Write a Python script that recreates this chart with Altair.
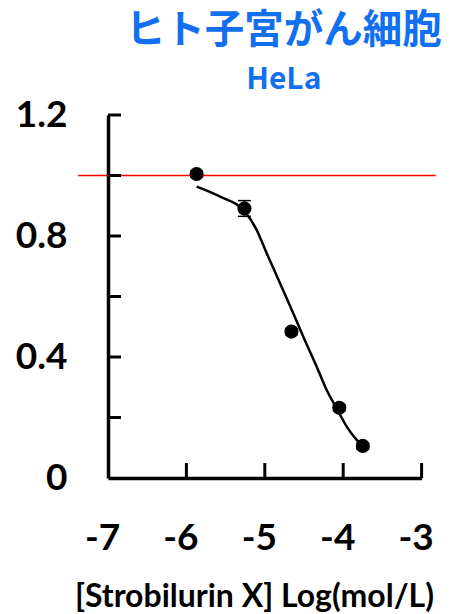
import altair as alt
import pandas as pd

# measured points
log_conc = [-5.87, -5.26, -4.66, -4.05, -3.75]
viability = [1.005, 0.891, 0.484, 0.232, 0.106]
err = [0.01, 0.026, 0.01, 0.01, 0.01]

# fitted curve
curve_x = [-5.869, -5.571, -5.253, -5.104, -4.976, -4.806, -4.636, -4.509, -4.338, -4.211,
           -4.083, -3.955, -3.828, -3.751]
curve_y = [0.963, 0.930, 0.880, 0.820, 0.743, 0.644, 0.544, 0.467, 0.368, 0.291,
           0.230, 0.170, 0.126, 0.106]

x_ticks = [-6, -5, -4, -3]
y_ticks = [0.2, 0.4, 0.6, 0.8, 1.0, 1.2]
y_labels = [0, 0.4, 0.8, 1.2]
x_labels = [-7, -6, -5, -4, -3]
ref_y = [1.0]
ref_x_start = [-7.38]
ref_x_end = [-2.82]

W, H = 313.6, 363
FONT = "Lato"
WEIGHT = "bold"
BLUE = "#1270F0"

pts = pd.DataFrame({"x": log_conc, "y": viability,
                    "lo": [v - e for v, e in zip(viability, err)],
                    "hi": [v + e for v, e in zip(viability, err)]})
crv = pd.DataFrame({"x": curve_x, "y": curve_y})
ref = pd.DataFrame({"x": ref_x_start, "x2": ref_x_end, "y": ref_y})
xt = pd.DataFrame({"x": x_ticks})
yt = pd.DataFrame({"y": y_ticks})

xscale = alt.Scale(domain=[-7, -3], nice=False, zero=False)
yscale = alt.Scale(domain=[0, 1.2], nice=False)

xaxis = alt.Axis(values=x_labels, ticks=False, tickSize=0, grid=False, domainColor="black",
                 domainWidth=3.5, labelFont=FONT, labelFontWeight=WEIGHT, labelFontSize=37,
                 labelColor="black", labelBaseline="middle", labelPadding=60, labelOffset=-6,
                 labelFlush=False, labelExpr="datum.value",
                 title="[Strobilurin X] Log(mol/L)", titleFont=FONT, titleFontWeight=WEIGHT,
                 titleFontSize=32, titleColor="black", titleX=146, titleY=118,
                 titleBaseline="middle", titleAlign="center")
yaxis = alt.Axis(values=y_labels, ticks=False, tickSize=0, grid=False, domainColor="black",
                 domainWidth=3.5, labelFont=FONT, labelFontWeight=WEIGHT, labelFontSize=37,
                 labelColor="black", labelBaseline="middle", labelPadding=41, labelFlush=False,
                 labelExpr="datum.value", title=None)


def X(field):
    return alt.X(field, scale=xscale, axis=xaxis)


def Y(field):
    return alt.Y(field, scale=yscale, axis=yaxis)


redline = alt.Chart(ref).mark_rule(color="#FF0000", strokeWidth=1.5).encode(
    x=X("x:Q"), x2="x2:Q", y=Y("y:Q"))

xtick_m = alt.Chart(xt).mark_rule(color="black", strokeWidth=3).encode(
    x=X("x:Q"), y=alt.value(H), y2=alt.value(H - 15))
ytick_m = alt.Chart(yt).mark_rule(color="black", strokeWidth=3).encode(
    y=Y("y:Q"), x=alt.value(0), x2=alt.value(13))

curve = alt.Chart(crv).mark_line(color="black", strokeWidth=2.5, interpolate="monotone").encode(
    x=X("x:Q"), y=Y("y:Q"))

ebar = alt.Chart(pts).mark_rule(color="black", strokeWidth=1.5).encode(
    x=X("x:Q"), y=Y("lo:Q"), y2="hi:Q")
ecap_lo = alt.Chart(pts).mark_rule(color="black", strokeWidth=1.5, xOffset=-6.5, x2Offset=6.5).encode(
    x=X("x:Q"), x2="x:Q", y=Y("lo:Q"))
ecap_hi = alt.Chart(pts).mark_rule(color="black", strokeWidth=1.5, xOffset=-6.5, x2Offset=6.5).encode(
    x=X("x:Q"), x2="x:Q", y=Y("hi:Q"))

points = alt.Chart(pts).mark_circle(color="black", opacity=1, size=200).encode(
    x=X("x:Q"), y=Y("y:Q"))

chart = alt.layer(redline, xtick_m, ytick_m, curve, ebar, ecap_lo, ecap_hi, points).properties(
    width=W, height=H,
    title=alt.TitleParams(text="ヒト子宮がん細胞", subtitle="HeLa", font="Noto Sans CJK JP",
                          fontWeight="bold", fontSize=39.5, color=BLUE,
                          subtitleFont="Noto Sans CJK JP", subtitleFontWeight="bold",
                          subtitleFontSize=30, subtitleColor=BLUE, subtitlePadding=14,
                          anchor="middle", frame="group", dx=19, offset=0),
    autosize=alt.AutoSizeParams(type="none"),
    padding={"left": 108, "top": 115, "right": 450 - 108 - W, "bottom": 614 - 115 - H},
).configure(background="white", view=alt.ViewConfig(stroke=None))

chart.save("out.html", embed_options={"renderer": "svg", "actions": False})
